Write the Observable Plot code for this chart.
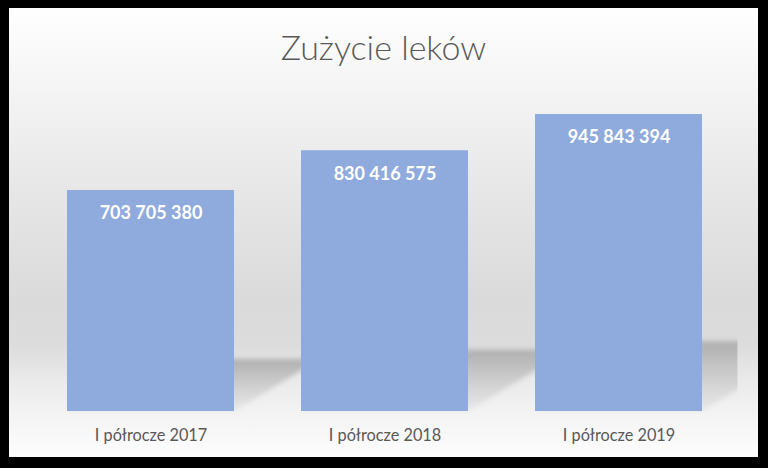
<!DOCTYPE html>
<html>
<head>
<meta charset="utf-8">
<script src="https://cdn.jsdelivr.net/npm/d3@7"></script>
<script src="https://cdn.jsdelivr.net/npm/@observablehq/plot@0.6"></script>
<style>
  html, body { margin: 0; padding: 0; background: #000; width: 768px; height: 468px; overflow: hidden; }
  #frame {
    position: absolute; left: 9px; top: 8px; width: 749px; height: 449px;
    background: linear-gradient(to bottom, #ffffff 0%, #f6f6f6 15%, #e7e7e7 40%, #dadada 65%, #dcdcdc 75%, #eaeaea 83%, #f3f3f3 90%, #fdfdfd 100%);
    font-family: Lato, "Open Sans", sans-serif;
  }
  #title {
    position: absolute; left: 0; top: 22px; width: 100%; text-align: center;
    font-size: 34px; line-height: 34px; font-weight: 300; color: #595959;
  }
  #chart { position: absolute; left: 0; top: 70px; }
</style>
</head>
<body>
<div id="frame">
  <div id="title">Zużycie leków</div>
  <div id="chart"></div>
</div>
<script>
const categories = ["I półrocze 2017", "I półrocze 2018", "I półrocze 2019"];
const values = [703705380, 830416575, 945843394];
const valueLabels = ["703 705 380", "830 416 575", "945 843 394"];

const data = categories.map((c, i) => ({category: c, value: values[i], label: valueLabels[i]}));

const W = 749, H = 379;
const marginLeft = 33.5, marginRight = 32.6, marginTop = 19, marginBottom = 46;

const plot = Plot.plot({
  width: W,
  height: H,
  marginLeft, marginRight, marginTop, marginBottom,
  style: {background: "transparent", fontFamily: "Lato, 'Open Sans', sans-serif", overflow: "visible"},
  x: {domain: categories, paddingInner: 0.288, paddingOuter: 0.1, label: null, tickSize: 0, tickPadding: 18},
  y: {domain: [0, 1e9], axis: null},
  marks: [
    Plot.barY(data, {x: "category", y: "value", fill: "#8FAADC"}),
    Plot.text(data, {x: "category", y: "value", text: "label", dy: 23, fill: "white", fontWeight: "bold", fontSize: 18, lineAnchor: "middle"}),
    Plot.axisX({tickSize: 0, tickPadding: 18, fontSize: 16.3, color: "#595959", label: null})
  ]
});

// perspective shadows derived from the rendered bars
const svg = d3.select(plot);
const defs = svg.insert("defs", ":first-child");
const grad = defs.append("linearGradient").attr("id", "shgrad").attr("x1", 0).attr("y1", 0).attr("x2", 0).attr("y2", 1);
grad.append("stop").attr("offset", "0%").attr("stop-color", "#a9a9a9").attr("stop-opacity", 0.9);
grad.append("stop").attr("offset", "60%").attr("stop-color", "#c8c8c8").attr("stop-opacity", 0.7);
grad.append("stop").attr("offset", "100%").attr("stop-color", "#dedede").attr("stop-opacity", 0.5);
defs.append("filter").attr("id", "shblur").attr("x", "-20%").attr("y", "-20%").attr("width", "140%").attr("height", "140%")
  .append("feGaussianBlur").attr("stdDeviation", 2.5);
defs.append("clipPath").attr("id", "shclip").append("rect")
  .attr("x", 0).attr("y", 0).attr("width", W - marginRight + 12).attr("height", H);

const barGroup = plot.querySelector('g[aria-label="bar"]');
const shadowG = d3.create("svg:g").attr("clip-path", "url(#shclip)");
barGroup.querySelectorAll("rect").forEach(r => {
  const x0 = +r.getAttribute("x"), w = +r.getAttribute("width");
  const y0 = +r.getAttribute("y"), h = +r.getAttribute("height");
  const base = y0 + h;
  const sh = 0.235 * h, dx = 1.66 * sh;
  const x1 = x0 + w;
  shadowG.append("polygon")
    .attr("points", [[x0, base], [x1, base], [x1 + dx, base - sh], [x0 + dx, base - sh]].map(p => p.join(",")).join(" "))
    .attr("fill", "url(#shgrad)")
    .attr("filter", "url(#shblur)");
});
barGroup.parentNode.insertBefore(shadowG.node(), barGroup);

document.getElementById("chart").appendChild(plot);
</script>
</body>
</html>
